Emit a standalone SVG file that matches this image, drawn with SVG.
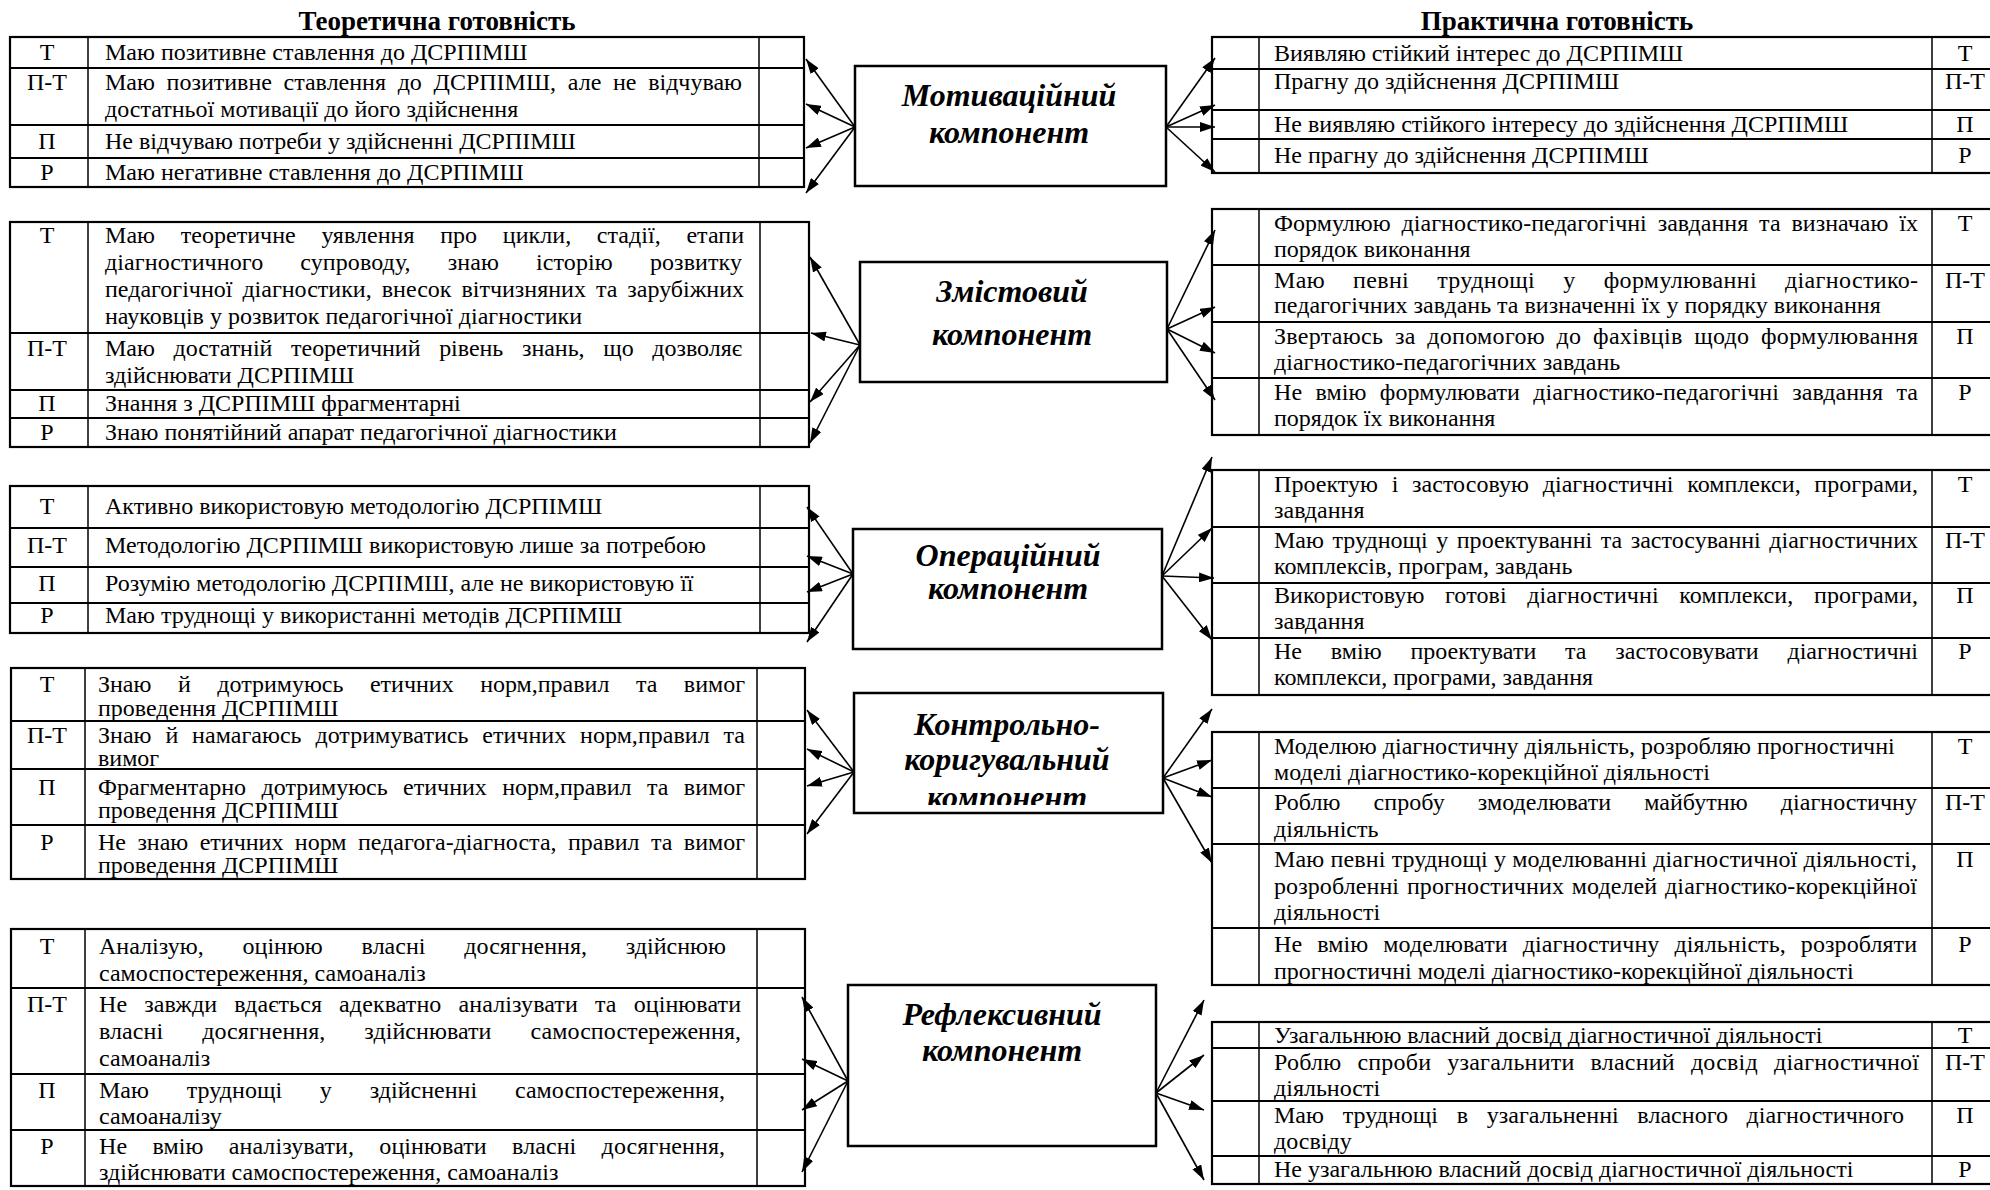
<svg xmlns="http://www.w3.org/2000/svg" width="1990" height="1190" viewBox="0 0 1990 1190">
<defs>
<marker id="ah" viewBox="0 0 15 10" refX="15" refY="5" markerWidth="15" markerHeight="10" markerUnits="userSpaceOnUse" orient="auto"><path d="M0,0 L15,5 L0,10 z" fill="#000"/></marker>
<clipPath id="clipB4"><rect x="854" y="693" width="309" height="112"/></clipPath>
</defs>
<style>
text{font-family:"Liberation Serif","Times New Roman",serif;fill:#000}
.t{font-size:24px}
.l{font-size:24px;text-anchor:middle}
.ttl{font-size:27px;font-weight:bold;text-anchor:middle}
.bx{font-size:32px;font-weight:bold;font-style:italic;text-anchor:middle}
.frame{fill:#fff;stroke:#000;stroke-width:2.2}
.row{stroke:#000;stroke-width:2}
.col{stroke:#000;stroke-width:1.5}
.box{fill:#fff;stroke:#000;stroke-width:2.5}
.arr{stroke:#000;stroke-width:1.6;fill:none;marker-end:url(#ah)}
</style>
<rect width="1990" height="1190" fill="#fff"/>

<text class="ttl" x="437" y="30">Теоретична готовність</text>
<text class="ttl" x="1557" y="30">Практична готовність</text>

<!-- LEFT TABLES -->
<g id="L1">
<rect class="frame" x="10" y="37" width="794" height="150"/>
<line class="col" x1="88" y1="37" x2="88" y2="187"/>
<line class="col" x1="759" y1="37" x2="759" y2="187"/>
<line class="row" x1="10" y1="68" x2="804" y2="68"/>
<line class="row" x1="10" y1="125" x2="804" y2="125"/>
<line class="row" x1="10" y1="158" x2="804" y2="158"/>
<text class="l" x="47" y="60">Т</text>
<text class="t" x="105" y="60">Маю позитивне ставлення до ДСРПІМШ</text>
<text class="l" x="47" y="90">П-Т</text>
<text class="t" x="105" y="90" style="word-spacing:5.7px" textLength="637" lengthAdjust="spacing">Маю позитивне ставлення до ДСРПІМШ, але не відчуваю</text>
<text class="t" x="105" y="117">достатньої мотивації до його здійснення</text>
<text class="l" x="47" y="149">П</text>
<text class="t" x="105" y="149">Не відчуваю потреби у здійсненні ДСРПІМШ</text>
<text class="l" x="47" y="180">Р</text>
<text class="t" x="105" y="180">Маю негативне ставлення до ДСРПІМШ</text>
</g>

<g id="L2">
<rect class="frame" x="10" y="222" width="799" height="225"/>
<line class="col" x1="88" y1="222" x2="88" y2="447"/>
<line class="col" x1="760" y1="222" x2="760" y2="447"/>
<line class="row" x1="10" y1="333" x2="809" y2="333"/>
<line class="row" x1="10" y1="390" x2="809" y2="390"/>
<line class="row" x1="10" y1="418" x2="809" y2="418"/>
<text class="l" x="47" y="243">Т</text>
<text class="t" x="105" y="243" style="word-spacing:19.6px" textLength="639" lengthAdjust="spacing">Маю теоретичне уявлення про цикли, стадії, етапи</text>
<text class="t" x="105" y="270" style="word-spacing:31px" textLength="637" lengthAdjust="spacing">діагностичного супроводу, знаю історію розвитку</text>
<text class="t" x="105" y="297" style="word-spacing:4px" textLength="639" lengthAdjust="spacing">педагогічної діагностики, внесок вітчизняних та зарубіжних</text>
<text class="t" x="105" y="324">науковців у розвиток педагогічної діагностики</text>
<text class="l" x="47" y="356">П-Т</text>
<text class="t" x="105" y="356" style="word-spacing:12.7px" textLength="637" lengthAdjust="spacing">Маю достатній теоретичний рівень знань, що дозволяє</text>
<text class="t" x="105" y="383">здійснювати ДСРПІМШ</text>
<text class="l" x="47" y="411">П</text>
<text class="t" x="105" y="411">Знання з ДСРПІМШ фрагментарні</text>
<text class="l" x="47" y="440">Р</text>
<text class="t" x="105" y="440">Знаю понятійний апарат педагогічної діагностики</text>
</g>

<g id="L3">
<rect class="frame" x="10" y="486" width="799" height="147"/>
<line class="col" x1="88" y1="486" x2="88" y2="633"/>
<line class="col" x1="760" y1="486" x2="760" y2="633"/>
<line class="row" x1="10" y1="528" x2="809" y2="528"/>
<line class="row" x1="10" y1="567" x2="809" y2="567"/>
<line class="row" x1="10" y1="603" x2="809" y2="603"/>
<text class="l" x="47" y="514">Т</text>
<text class="t" x="105" y="514">Активно використовую методологію ДСРПІМШ</text>
<text class="l" x="47" y="553">П-Т</text>
<text class="t" x="105" y="553">Методологію  ДСРПІМШ використовую лише за потребою</text>
<text class="l" x="47" y="591">П</text>
<text class="t" x="105" y="591">Розумію методологію ДСРПІМШ, але не використовую її</text>
<text class="l" x="47" y="623">Р</text>
<text class="t" x="105" y="623">Маю труднощі у використанні методів ДСРПІМШ</text>
</g>

<g id="L4">
<rect class="frame" x="11" y="668" width="794" height="211"/>
<line class="col" x1="85" y1="668" x2="85" y2="879"/>
<line class="col" x1="757" y1="668" x2="757" y2="879"/>
<line class="row" x1="11" y1="721" x2="805" y2="721"/>
<line class="row" x1="11" y1="769" x2="805" y2="769"/>
<line class="row" x1="11" y1="825" x2="805" y2="825"/>
<text class="l" x="47" y="692">Т</text>
<text class="t" x="98" y="692" style="word-spacing:20.5px" textLength="647" lengthAdjust="spacing">Знаю й дотримуюсь етичних норм,правил та вимог</text>
<text class="t" x="98" y="716">проведення ДСРПІМШ</text>
<text class="l" x="47" y="743">П-Т</text>
<text class="t" x="98" y="743" style="word-spacing:7.8px" textLength="647" lengthAdjust="spacing">Знаю й намагаюсь дотримуватись етичних норм,правил та</text>
<text class="t" x="98" y="766">вимог</text>
<text class="l" x="47" y="795">П</text>
<text class="t" x="98" y="795" style="word-spacing:9.4px" textLength="647" lengthAdjust="spacing">Фрагментарно дотримуюсь етичних норм,правил та вимог</text>
<text class="t" x="98" y="818">проведення ДСРПІМШ</text>
<text class="l" x="47" y="850">Р</text>
<text class="t" x="98" y="850" style="word-spacing:5.4px" textLength="647" lengthAdjust="spacing">Не знаю етичних норм педагога-діагноста, правил та вимог</text>
<text class="t" x="98" y="873">проведення ДСРПІМШ</text>
</g>

<g id="L5">
<rect class="frame" x="11" y="929" width="794" height="257"/>
<line class="col" x1="85" y1="929" x2="85" y2="1186"/>
<line class="col" x1="757" y1="929" x2="757" y2="1186"/>
<line class="row" x1="11" y1="988" x2="805" y2="988"/>
<line class="row" x1="11" y1="1074" x2="805" y2="1074"/>
<line class="row" x1="11" y1="1130" x2="805" y2="1130"/>
<text class="l" x="47" y="954">Т</text>
<text class="t" x="99" y="954" style="word-spacing:32.8px" textLength="627" lengthAdjust="spacing">Аналізую, оцінюю власні досягнення, здійснюю</text>
<text class="t" x="99" y="981">самоспостереження, самоаналіз</text>
<text class="l" x="47" y="1012">П-Т</text>
<text class="t" x="99" y="1012" style="word-spacing:11px" textLength="642" lengthAdjust="spacing">Не завжди вдається адекватно аналізувати та оцінювати</text>
<text class="t" x="99" y="1039" style="word-spacing:33px" textLength="642" lengthAdjust="spacing">власні досягнення, здійснювати самоспостереження,</text>
<text class="t" x="99" y="1066">самоаналіз</text>
<text class="l" x="47" y="1098">П</text>
<text class="t" x="99" y="1098" style="word-spacing:31.7px" textLength="626" lengthAdjust="spacing">Маю труднощі у здійсненні самоспостереження,</text>
<text class="t" x="99" y="1124">самоаналізу</text>
<text class="l" x="47" y="1154">Р</text>
<text class="t" x="99" y="1154" style="word-spacing:19.2px" textLength="626" lengthAdjust="spacing">Не вмію аналізувати, оцінювати власні досягнення,</text>
<text class="t" x="99" y="1180">здійснювати самоспостереження, самоаналіз</text>
</g>

<!-- CENTRAL BOXES -->
<g id="B1">
<rect class="box" x="855" y="66" width="311" height="120"/>
<text class="bx" x="1009" y="106">Мотиваційний</text>
<text class="bx" x="1009" y="143">компонент</text>
</g>
<g id="B2">
<rect class="box" x="860" y="262" width="307" height="120"/>
<text class="bx" x="1012" y="302">Змістовий</text>
<text class="bx" x="1012" y="345">компонент</text>
</g>
<g id="B3">
<rect class="box" x="853" y="529" width="309" height="120"/>
<text class="bx" x="1008" y="566">Операційний</text>
<text class="bx" x="1008" y="599">компонент</text>
</g>
<g id="B4">
<rect class="box" x="854" y="693" width="309" height="120"/>
<text class="bx" x="1007" y="735">Контрольно-</text>
<text class="bx" x="1007" y="770">коригувальний</text>
<text class="bx" x="1007" y="808" clip-path="url(#clipB4)">компонент</text>
</g>
<g id="B5">
<rect class="box" x="848" y="985" width="308" height="161"/>
<text class="bx" x="1002" y="1025">Рефлексивний</text>
<text class="bx" x="1002" y="1061">компонент</text>
</g>

<!-- RIGHT TABLES -->
<g id="R1">
<rect class="frame" x="1212" y="37" width="800" height="136"/>
<line class="col" x1="1259" y1="37" x2="1259" y2="173"/>
<line class="col" x1="1932" y1="37" x2="1932" y2="173"/>
<line class="row" x1="1212" y1="69" x2="1990" y2="69"/>
<line class="row" x1="1212" y1="110" x2="1990" y2="110"/>
<line class="row" x1="1212" y1="139" x2="1990" y2="139"/>
<text class="t" x="1274" y="61">Виявляю стійкий інтерес до ДСРПІМШ</text>
<text class="l" x="1965" y="61">Т</text>
<text class="t" x="1274" y="89">Прагну до здійснення ДСРПІМШ</text>
<text class="l" x="1965" y="89">П-Т</text>
<text class="t" x="1274" y="132">Не виявляю стійкого інтересу до здійснення ДСРПІМШ</text>
<text class="l" x="1965" y="132">П</text>
<text class="t" x="1274" y="163">Не прагну до здійснення ДСРПІМШ</text>
<text class="l" x="1965" y="163">Р</text>
</g>

<g id="R2">
<rect class="frame" x="1212" y="209" width="800" height="226"/>
<line class="col" x1="1259" y1="209" x2="1259" y2="435"/>
<line class="col" x1="1932" y1="209" x2="1932" y2="435"/>
<line class="row" x1="1212" y1="265" x2="1990" y2="265"/>
<line class="row" x1="1212" y1="322" x2="1990" y2="322"/>
<line class="row" x1="1212" y1="378" x2="1990" y2="378"/>
<text class="t" x="1274" y="231" style="word-spacing:4.8px" textLength="644" lengthAdjust="spacing">Формулюю діагностико-педагогічні завдання та визначаю їх</text>
<text class="t" x="1274" y="257">порядок виконання</text>
<text class="l" x="1965" y="231">Т</text>
<text class="t" x="1274" y="288" style="word-spacing:21.8px" textLength="644" lengthAdjust="spacing">Маю певні труднощі у формулюванні діагностико-</text>
<text class="t" x="1274" y="313">педагогічних завдань та визначенні  їх у порядку виконання</text>
<text class="l" x="1965" y="288">П-Т</text>
<text class="t" x="1274" y="344" style="word-spacing:5.3px" textLength="644" lengthAdjust="spacing">Звертаюсь за допомогою до фахівців щодо формулювання</text>
<text class="t" x="1274" y="370">діагностико-педагогічних завдань</text>
<text class="l" x="1965" y="344">П</text>
<text class="t" x="1274" y="400" style="word-spacing:7.4px" textLength="644" lengthAdjust="spacing">Не вмію формулювати діагностико-педагогічні завдання та</text>
<text class="t" x="1274" y="426">порядок їх виконання</text>
<text class="l" x="1965" y="400">Р</text>
</g>

<g id="R3">
<rect class="frame" x="1212" y="470" width="800" height="225"/>
<line class="col" x1="1259" y1="470" x2="1259" y2="695"/>
<line class="col" x1="1932" y1="470" x2="1932" y2="695"/>
<line class="row" x1="1212" y1="527" x2="1990" y2="527"/>
<line class="row" x1="1212" y1="583" x2="1990" y2="583"/>
<line class="row" x1="1212" y1="638" x2="1990" y2="638"/>
<text class="t" x="1274" y="492" style="word-spacing:7.6px" textLength="644" lengthAdjust="spacing">Проектую і застосовую діагностичні комплекси, програми,</text>
<text class="t" x="1274" y="518">завдання</text>
<text class="l" x="1965" y="492">Т</text>
<text class="t" x="1274" y="548" style="word-spacing:2.5px" textLength="644" lengthAdjust="spacing">Маю труднощі у проектуванні та застосуванні діагностичних</text>
<text class="t" x="1274" y="574">комплексів, програм, завдань</text>
<text class="l" x="1965" y="548">П-Т</text>
<text class="t" x="1274" y="603" style="word-spacing:14.5px" textLength="644" lengthAdjust="spacing">Використовую готові діагностичні комплекси, програми,</text>
<text class="t" x="1274" y="629">завдання</text>
<text class="l" x="1965" y="603">П</text>
<text class="t" x="1274" y="659" style="word-spacing:22.8px" textLength="644" lengthAdjust="spacing">Не вмію проектувати та застосовувати діагностичні</text>
<text class="t" x="1274" y="685">комплекси, програми, завдання</text>
<text class="l" x="1965" y="659">Р</text>
</g>

<g id="R4">
<rect class="frame" x="1212" y="732" width="800" height="253"/>
<line class="col" x1="1259" y1="732" x2="1259" y2="985"/>
<line class="col" x1="1932" y1="732" x2="1932" y2="985"/>
<line class="row" x1="1212" y1="788" x2="1990" y2="788"/>
<line class="row" x1="1212" y1="844" x2="1990" y2="844"/>
<line class="row" x1="1212" y1="928" x2="1990" y2="928"/>
<text class="t" x="1274" y="754">Моделюю діагностичну діяльність, розробляю прогностичні</text>
<text class="t" x="1274" y="780">моделі діагностико-корекційної діяльності</text>
<text class="l" x="1965" y="754">Т</text>
<text class="t" x="1274" y="810" style="word-spacing:27px" textLength="643" lengthAdjust="spacing">Роблю спробу змоделювати майбутню діагностичну</text>
<text class="t" x="1274" y="837">діяльність</text>
<text class="l" x="1965" y="810">П-Т</text>
<text class="t" x="1274" y="867" textLength="643" lengthAdjust="spacing">Маю певні труднощі у моделюванні діагностичної діяльності,</text>
<text class="t" x="1274" y="894" style="word-spacing:1.7px" textLength="643" lengthAdjust="spacing">розробленні прогностичних моделей діагностико-корекційної</text>
<text class="t" x="1274" y="920">діяльності</text>
<text class="l" x="1965" y="867">П</text>
<text class="t" x="1274" y="952" style="word-spacing:9px" textLength="643" lengthAdjust="spacing">Не вмію моделювати діагностичну діяльність, розробляти</text>
<text class="t" x="1274" y="979">прогностичні моделі діагностико-корекційної діяльності</text>
<text class="l" x="1965" y="952">Р</text>
</g>

<g id="R5">
<rect class="frame" x="1212" y="1022" width="800" height="162"/>
<line class="col" x1="1259" y1="1022" x2="1259" y2="1184"/>
<line class="col" x1="1932" y1="1022" x2="1932" y2="1184"/>
<line class="row" x1="1212" y1="1048" x2="1990" y2="1048"/>
<line class="row" x1="1212" y1="1101" x2="1990" y2="1101"/>
<line class="row" x1="1212" y1="1156" x2="1990" y2="1156"/>
<text class="t" x="1274" y="1043">Узагальнюю власний досвід діагностичної діяльності</text>
<text class="l" x="1965" y="1043">Т</text>
<text class="t" x="1274" y="1070" style="word-spacing:9.8px" textLength="645" lengthAdjust="spacing">Роблю спроби узагальнити власний досвід діагностичної</text>
<text class="t" x="1274" y="1096">діяльності</text>
<text class="l" x="1965" y="1070">П-Т</text>
<text class="t" x="1274" y="1123" style="word-spacing:12.6px" textLength="630" lengthAdjust="spacing">Маю труднощі в узагальненні власного діагностичного</text>
<text class="t" x="1274" y="1149">досвіду</text>
<text class="l" x="1965" y="1123">П</text>
<text class="t" x="1274" y="1177">Не узагальнюю власний досвід діагностичної діяльності</text>
<text class="l" x="1965" y="1177">Р</text>
</g>

<!-- CONNECTORS -->
<g id="connectors">
<line class="arr" x1="855" y1="127" x2="806" y2="59"/>
<line class="arr" x1="855" y1="127" x2="806" y2="104"/>
<line class="arr" x1="855" y1="127" x2="806" y2="148"/>
<line class="arr" x1="855" y1="127" x2="806" y2="193"/>
<line class="arr" x1="1166" y1="127" x2="1215" y2="58"/>
<line class="arr" x1="1166" y1="127" x2="1215" y2="105"/>
<line class="arr" x1="1166" y1="127" x2="1215" y2="127"/>
<line class="arr" x1="1166" y1="127" x2="1215" y2="172"/>

<line class="arr" x1="860" y1="345" x2="810" y2="257"/>
<line class="arr" x1="860" y1="345" x2="811" y2="333"/>
<line class="arr" x1="860" y1="345" x2="810" y2="402"/>
<line class="arr" x1="860" y1="345" x2="810" y2="443"/>
<line class="arr" x1="1167" y1="329" x2="1215" y2="230"/>
<line class="arr" x1="1167" y1="329" x2="1215" y2="307"/>
<line class="arr" x1="1167" y1="329" x2="1215" y2="353"/>
<line class="arr" x1="1167" y1="329" x2="1215" y2="400"/>

<line class="arr" x1="853" y1="574" x2="807" y2="507"/>
<line class="arr" x1="853" y1="574" x2="807" y2="556"/>
<line class="arr" x1="853" y1="574" x2="807" y2="592"/>
<line class="arr" x1="853" y1="574" x2="807" y2="642"/>
<line class="arr" x1="1162" y1="576" x2="1212" y2="457"/>
<line class="arr" x1="1162" y1="576" x2="1212" y2="528"/>
<line class="arr" x1="1162" y1="576" x2="1214" y2="578"/>
<line class="arr" x1="1162" y1="576" x2="1212" y2="640"/>

<line class="arr" x1="854" y1="772" x2="807" y2="710"/>
<line class="arr" x1="854" y1="772" x2="807" y2="749"/>
<line class="arr" x1="854" y1="772" x2="807" y2="786"/>
<line class="arr" x1="854" y1="772" x2="807" y2="834"/>
<line class="arr" x1="1163" y1="778" x2="1212" y2="709"/>
<line class="arr" x1="1163" y1="778" x2="1212" y2="760"/>
<line class="arr" x1="1163" y1="778" x2="1212" y2="797"/>
<line class="arr" x1="1163" y1="778" x2="1212" y2="863"/>

<line class="arr" x1="848" y1="1081" x2="802" y2="997"/>
<line class="arr" x1="848" y1="1081" x2="802" y2="1059"/>
<line class="arr" x1="848" y1="1081" x2="802" y2="1110"/>
<line class="arr" x1="848" y1="1081" x2="802" y2="1172"/>
<line class="arr" x1="1156" y1="1093" x2="1204" y2="1000"/>
<line class="arr" x1="1156" y1="1093" x2="1204" y2="1055"/>
<line class="arr" x1="1156" y1="1093" x2="1204" y2="1110"/>
<line class="arr" x1="1156" y1="1093" x2="1204" y2="1180"/>
</g>
</svg>
